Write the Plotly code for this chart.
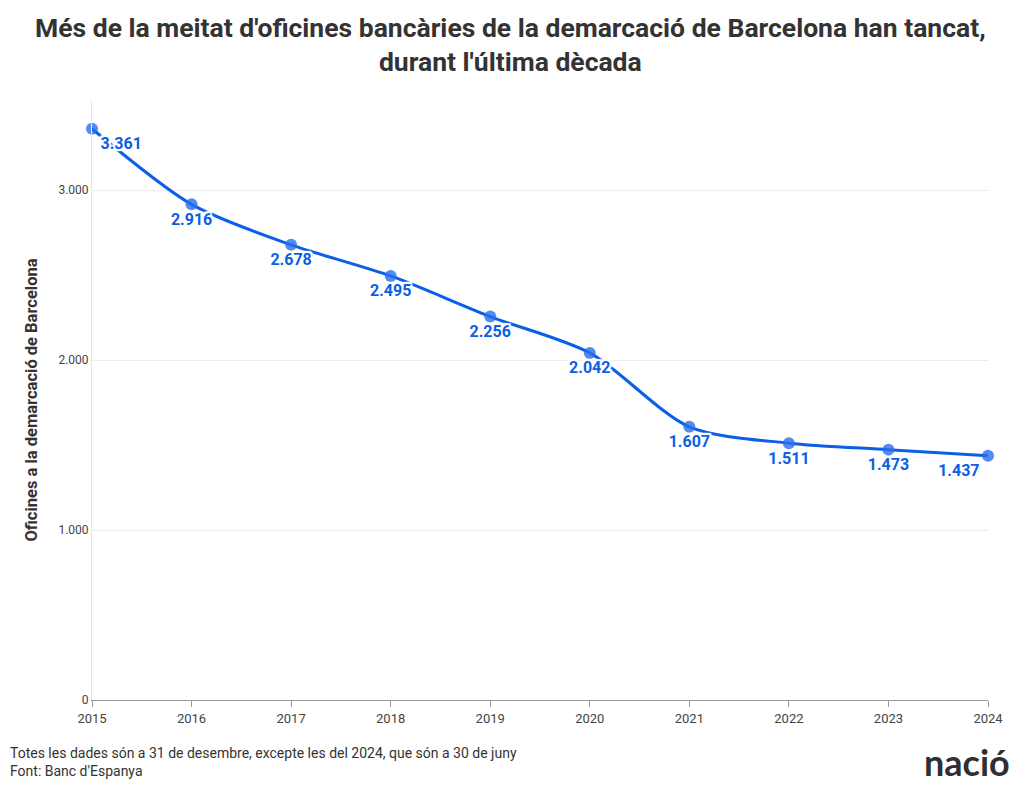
import plotly.graph_objects as go

years = [2015, 2016, 2017, 2018, 2019, 2020, 2021, 2022, 2023, 2024]
offices = [3361, 2916, 2678, 2495, 2256, 2042, 1607, 1511, 1473, 1437]
label_pos = ["bottom right"] + ["bottom center"] * 8 + ["bottom left"]
y_ticks = [0, 1000, 2000, 3000]

FONT = "Roboto, sans-serif"
BLUE = "#0a5fe6"
SHADOW = ("2px 2px 1px white, -2px -2px 1px white, 2px -2px 1px white, -2px 2px 1px white, "
          "0 2px 1px white, 0 -2px 1px white, 2px 0 1px white, -2px 0 1px white")

fig = go.Figure()
fig.add_trace(go.Scatter(
    x=years, y=offices,
    mode="lines+markers+text",
    line=dict(color=BLUE, width=3, shape="spline", smoothing=0.8),
    marker=dict(size=12, color="rgba(40,110,235,0.8)"),
    texttemplate="%{y:,.0f}",
    textposition=label_pos,
    textfont=dict(family=FONT, size=16, color=BLUE, weight="bold", shadow=SHADOW),
    hoverinfo="skip",
    cliponaxis=False,
))

fig.update_layout(
    width=1020, height=792,
    margin=dict(l=92, r=32, t=100, b=92),
    paper_bgcolor="white", plot_bgcolor="white",
    separators=",.",
    showlegend=False,
    font=dict(family=FONT, color="#333"),
    xaxis=dict(
        range=[2015, 2024], tickvals=years, ticktext=[str(y) for y in years],
        showgrid=False, showline=True, linecolor="#999", linewidth=1,
        ticks="outside", ticklen=6, tickcolor="#999",
        tickfont=dict(family=FONT, size=13, color="#444"),
        zeroline=False,
    ),
    yaxis=dict(
        range=[0, 3530], tickvals=y_ticks, tickformat=",.0f",
        showgrid=True, gridcolor="#ececec", gridwidth=1,
        showline=True, linecolor="#e6e6e6", linewidth=1,
        ticks="", zeroline=False,
        tickfont=dict(family=FONT, size=12, color="#444"),
        title=dict(text="<b>Oficines a la demarcació de Barcelona</b>",
                   font=dict(family=FONT, size=16.5, color="#333"), standoff=16),
    ),
    annotations=[
        dict(text="<b>Més de la meitat d'oficines bancàries de la demarcació de Barcelona han tancat,<br>durant l'última dècada</b>",
             xref="paper", yref="paper", x=(510 - 92) / 896, y=1 + (100 - 10) / 600,
             xanchor="center", yanchor="top", align="center", showarrow=False,
             font=dict(family=FONT, size=26.5, color="#333")),
        dict(text="Totes les dades són a 31 de desembre, excepte les del 2024, que són a 30 de juny<br>Font: Banc d'Espanya",
             xref="paper", yref="paper", x=-(92 - 8) / 896, y=-(743 - 700) / 600,
             xanchor="left", yanchor="top", align="left", showarrow=False,
             font=dict(family=FONT, size=14, color="#333")),
        dict(text="<b>nació</b>",
             xref="paper", yref="paper", x=1 + (1012 - 988) / 896, y=-(762 - 700) / 600,
             xanchor="right", yanchor="middle", showarrow=False,
             font=dict(family="Lato, sans-serif", size=36, color="#2e2e33", weight=900)),
    ],
)

fig.write_html("out.html")
